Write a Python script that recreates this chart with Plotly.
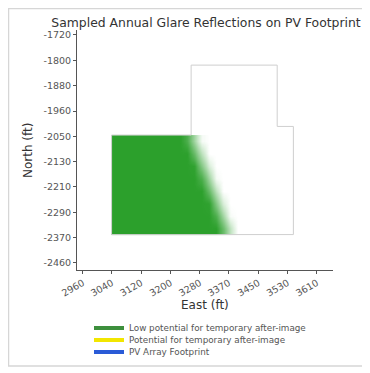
import plotly.graph_objects as go

# ---- data ----
title_text = "Sampled Annual Glare Reflections on PV Footprint"
x_title = "East (ft)"
y_title = "North (ft)"

# PV array footprint outline (East ft, North ft)
footprint_east = [3040, 3261, 3261, 3500, 3500, 3545, 3545, 3040, 3040]
footprint_north = [-2045, -2045, -1818, -1818, -2017, -2017, -2368, -2368, -2045]

# sampled glare density grid (low potential for temporary after-image)
glare_east_edges = [3040, 3060, 3080, 3100, 3120, 3140, 3160, 3180, 3200, 3220, 3240,
                    3260, 3280, 3300, 3320, 3340, 3360, 3380, 3400, 3420, 3440]
glare_north_edges = [-2045, -2085, -2126, -2166, -2207, -2247, -2287, -2328, -2368]
glare_density = [
    [1, 1, 1, 1, 1, 1, 1, 1, 1, 1, 0.85, 0.45, 0.05, 0, 0, 0, 0, 0, 0, 0],
    [1, 1, 1, 1, 1, 1, 1, 1, 1, 1, 1, 0.72, 0.32, 0, 0, 0, 0, 0, 0, 0],
    [1, 1, 1, 1, 1, 1, 1, 1, 1, 1, 1, 0.98, 0.58, 0.18, 0, 0, 0, 0, 0, 0],
    [1, 1, 1, 1, 1, 1, 1, 1, 1, 1, 1, 1, 0.85, 0.45, 0.05, 0, 0, 0, 0, 0],
    [1, 1, 1, 1, 1, 1, 1, 1, 1, 1, 1, 1, 1, 0.71, 0.31, 0, 0, 0, 0, 0],
    [1, 1, 1, 1, 1, 1, 1, 1, 1, 1, 1, 1, 1, 0.98, 0.58, 0.18, 0, 0, 0, 0],
    [1, 1, 1, 1, 1, 1, 1, 1, 1, 1, 1, 1, 1, 1, 0.84, 0.44, 0.04, 0, 0, 0],
    [1, 1, 1, 1, 1, 1, 1, 1, 1, 1, 1, 1, 1, 1, 1, 0.71, 0.31, 0, 0, 0],
]

x_tick_vals = [2960, 3041, 3122, 3204, 3285, 3366, 3448, 3529, 3610]
x_tick_text = ["2960", "3040", "3120", "3200", "3280", "3370", "3450", "3530", "3610"]
y_tick_vals = [-1720, -1802, -1884, -1967, -2049, -2131, -2213, -2296, -2378, -2460]
y_tick_text = ["-1720", "-1800", "-1880", "-1960", "-2050", "-2130", "-2210", "-2290", "-2370", "-2460"]

legend_names = ["Low potential for temporary after-image",
                "Potential for temporary after-image",
                "PV Array Footprint"]
legend_colors = ["#3d8f3d", "#f2e600", "#2a5bd7"]
legend_ids = ["legend", "legend2", "legend3"]

FONT = "DejaVu Sans"
W, H = 362, 365  # page has an 8px body margin
fig = go.Figure()

# footprint outline (drawn under the glare layer)
fig.add_trace(go.Scatter(
    x=footprint_east, y=footprint_north, mode="lines",
    line=dict(color="#cfcfcf", width=1), showlegend=False, hoverinfo="skip"))

fig.add_trace(go.Heatmap(
    x=glare_east_edges, y=glare_north_edges, z=glare_density,
    zmin=0, zmax=1, zsmooth="best", showscale=False, hoverinfo="skip",
    colorscale=[[0, "rgba(44,160,44,0)"], [1, "rgba(44,160,44,1)"]]))

for name, col, lid in zip(legend_names, legend_colors, legend_ids):
    fig.add_trace(go.Scatter(x=[None], y=[None], mode="lines", name=name,
                             legend=lid, showlegend=True,
                             line=dict(color=col, width=4)))

axis_common = dict(showline=True, linecolor="#555", linewidth=1, ticks="outside",
                   ticklen=3, tickcolor="#555", showgrid=False, zeroline=False,
                   automargin=False,
                   tickfont=dict(family=FONT, size=9.5, color="#555"),
                   mirror=False, fixedrange=True)

leg_common = dict(x=81 / W, xref="container", yref="container",
                  xanchor="left", yanchor="middle",
                  font=dict(family=FONT, size=8.8, color="#555"),
                  bgcolor="rgba(0,0,0,0)", itemwidth=30)

fig.update_layout(
    width=W, height=H,
    margin=dict(l=69, r=37, t=22, b=103, autoexpand=False),
    paper_bgcolor="white", plot_bgcolor="white",
    font=dict(family=FONT, color="#333"),
    title=dict(text=title_text, x=0.504, xref="paper", y=1 - 14.5 / H, yref="container",
               xanchor="center", yanchor="middle",
               font=dict(family=FONT, size=12.4, color="#333")),
    xaxis=dict(range=[2944, 3655], tickvals=x_tick_vals, ticktext=x_tick_text,
               tickangle=-30, **axis_common),
    yaxis=dict(range=[-2483, -1704], tickvals=y_tick_vals, ticktext=y_tick_text,
               **axis_common),
    legend=dict(y=1 - 320 / H, **leg_common),
    legend2=dict(y=1 - 332 / H, **leg_common),
    legend3=dict(y=1 - 344 / H, **leg_common),
    annotations=[
        dict(text=x_title, xref="paper", yref="paper", x=0.5, y=-0.1458,
             xanchor="center", yanchor="middle", showarrow=False,
             font=dict(family=FONT, size=12, color="#333")),
        dict(text=y_title, xref="paper", yref="paper", x=-0.191, y=0.496,
             xanchor="center", yanchor="middle", showarrow=False, textangle=-90,
             font=dict(family=FONT, size=12, color="#333")),
    ],
    shapes=[dict(type="rect", xref="paper", yref="paper",
                 xsizemode="pixel", ysizemode="pixel", xanchor=0, yanchor=0,
                 x0=-68.5, x1=300, y0=-96, y1=261.5,
                 line=dict(color="#d6d6d6", width=1.5), layer="below")],
)

fig.write_html("out.html")
